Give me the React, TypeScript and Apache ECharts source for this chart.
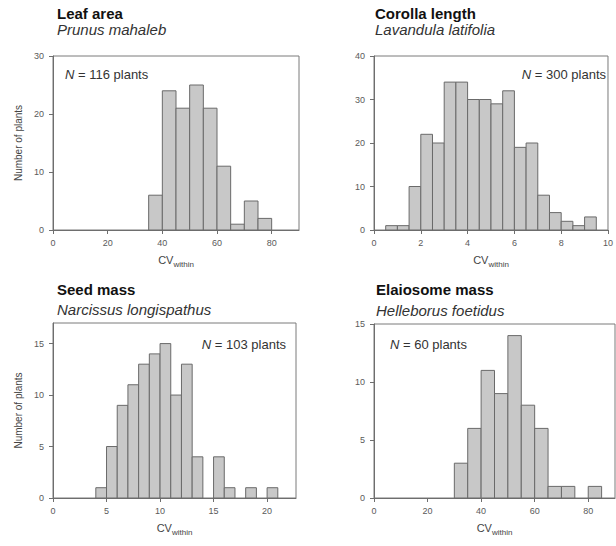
import React, { useEffect, useRef } from "react";
import * as echarts from "echarts";

// ---- Data ----
const leafBinStarts = [35, 40, 45, 50, 55, 60, 65, 70, 75];
const leafCounts = [6, 24, 21, 25, 21, 11, 1, 5, 2];
const leafBinWidth = 5;

const corollaBinStarts = [0.5, 1, 1.5, 2, 2.5, 3, 3.5, 4, 4.5, 5, 5.5, 6, 6.5, 7, 7.5, 8, 8.5, 9];
const corollaCounts = [1, 1, 10, 22, 20, 34, 34, 30, 30, 29, 32, 19, 20, 8, 4, 2, 1, 3];
const corollaBinWidth = 0.5;

const seedBinStarts = [4, 5, 6, 7, 8, 9, 10, 11, 12, 13, 14, 15, 16, 17, 18, 19, 20];
const seedCounts = [1, 5, 9, 11, 13, 14, 15, 10, 13, 4, 0, 4, 1, 0, 1, 0, 1];
const seedBinWidth = 1;

const elaioBinStarts = [30, 35, 40, 45, 50, 55, 60, 65, 70, 75, 80];
const elaioCounts = [3, 6, 11, 9, 14, 8, 6, 1, 1, 0, 1];
const elaioBinWidth = 5;

const titles = ["Leaf area", "Corolla length", "Seed mass", "Elaiosome mass"];
const species = ["Prunus mahaleb", "Lavandula latifolia", "Narcissus longispathus", "Helleborus foetidus"];
const nLabels = ["116", "300", "103", "60"];

const xTicks = [
  [0, 20, 40, 60, 80],
  [0, 2, 4, 6, 8, 10],
  [0, 5, 10, 15, 20],
  [0, 20, 40, 60, 80],
];
const yTicks = [
  [0, 10, 20, 30],
  [0, 10, 20, 30, 40],
  [0, 5, 10, 15],
  [0, 5, 10, 15],
];
const xMax = [90, 10, 22.7, 90];
const yMax = [30, 40, 17, 15];

const FONT = "Liberation Sans, Arial, Helvetica, sans-serif";

const panels = [
  { starts: leafBinStarts, counts: leafCounts, w: leafBinWidth },
  { starts: corollaBinStarts, counts: corollaCounts, w: corollaBinWidth },
  { starts: seedBinStarts, counts: seedCounts, w: seedBinWidth },
  { starts: elaioBinStarts, counts: elaioCounts, w: elaioBinWidth },
];

// layout
const grids = [
  { left: 53, top: 56, width: 246, height: 174 },
  { left: 374, top: 56, width: 241, height: 174 },
  { left: 53, top: 323, width: 243, height: 175 },
  { left: 374, top: 324, width: 241, height: 174 },
];

export default function App() {
  const ref = useRef<HTMLDivElement>(null);

  useEffect(() => {
    document.body.style.margin = "0";
    if (!ref.current) return;
    const chart = echarts.init(ref.current, null, { renderer: "svg" });

    const axisColor = "#6e6e6e";
    const labelColor = "#5a5a5a";

    const xAxes = grids.map((_, i) => ({
      type: "value",
      gridIndex: i,
      min: 0,
      max: xMax[i],
      splitLine: { show: false },
      axisLine: { show: true, onZero: false, lineStyle: { color: axisColor, width: 1 } },
      axisTick: { show: true, length: 4, customValues: xTicks[i], lineStyle: { color: axisColor } },
      axisLabel: {
        customValues: xTicks[i],
        fontSize: 9,
        color: labelColor,
        fontFamily: FONT,
        margin: 8,
        showMaxLabel: true,
      },
      name: "{a|CV}{b|within}",
      nameLocation: "middle",
      nameGap: 24,
      nameTextStyle: {
        color: "#444",
        fontFamily: FONT,
        rich: {
          a: { fontSize: 11, color: "#444", fontFamily: FONT, lineHeight: 16, verticalAlign: "top" },
          b: { fontSize: 8, color: "#444", fontFamily: FONT, lineHeight: 16, padding: [6, 0, 0, 0], verticalAlign: "top" },
        },
      },
    }));

    const yAxes = grids.map((_, i) => ({
      type: "value",
      gridIndex: i,
      min: 0,
      max: yMax[i],
      splitLine: { show: false },
      axisLine: { show: true, onZero: false, lineStyle: { color: axisColor, width: 1 } },
      axisTick: { show: true, length: 4, customValues: yTicks[i], lineStyle: { color: axisColor } },
      axisLabel: {
        customValues: yTicks[i],
        fontSize: 9,
        color: labelColor,
        fontFamily: FONT,
        margin: 9,
      },
      name: i % 2 === 0 ? "Number of plants" : "",
      nameLocation: "middle",
      nameGap: 30,
      nameTextStyle: { fontSize: 10, color: "#444", fontFamily: FONT },
    }));

    const series = panels.map((p, i) => ({
      type: "custom",
      xAxisIndex: i,
      yAxisIndex: i,
      data: p.starts.map((s, j) => [s, p.counts[j], p.w]),
      encode: { x: 0, y: 1 },
      renderItem: (_params: any, api: any) => {
        const x0 = api.value(0);
        const y = api.value(1);
        const w = api.value(2);
        if (!y) return null;
        const p0 = api.coord([x0, y]);
        const p1 = api.coord([x0 + w, 0]);
        return {
          type: "rect",
          shape: { x: p0[0], y: p0[1], width: p1[0] - p0[0], height: p1[1] - p0[1] },
          style: { fill: "#c8c8c8", stroke: "#6a6a6a", lineWidth: 1 },
        };
      },
    }));

    const titlePos = [
      { x: 57, ty: 13, sy: 29, nx: 65, ny: 74, nAlign: "left" },
      { x: 375, ty: 13, sy: 29, nx: 606, ny: 74, nAlign: "right" },
      { x: 57, ty: 289, sy: 309, nx: 286, ny: 344, nAlign: "right" },
      { x: 376, ty: 289, sy: 310, nx: 390, ny: 344, nAlign: "left" },
    ];

    const graphic: any[] = [];
    titlePos.forEach((t, i) => {
      graphic.push({
        type: "text",
        x: t.x,
        y: t.ty,
        style: {
          text: titles[i],
          fontSize: 15,
          lineHeight: 15,
          fontWeight: "bold",
          fontFamily: FONT,
          fill: "#111",
          textAlign: "left",
          textVerticalAlign: "middle",
        },
      });
      graphic.push({
        type: "text",
        x: t.x,
        y: t.sy,
        style: {
          text: species[i],
          fontSize: 15,
          lineHeight: 15,
          fontStyle: "italic",
          fontFamily: FONT,
          fill: "#333",
          textAlign: "left",
          textVerticalAlign: "middle",
        },
      });
      graphic.push({
        type: "text",
        x: t.nx,
        y: t.ny,
        z: 10,
        style: {
          text: "{i|N} = " + nLabels[i] + " plants",
          rich: { i: { fontStyle: "italic", fontSize: 13, fontFamily: FONT, fill: "#333" } },
          fontSize: 13,
          fontFamily: FONT,
          fill: "#333",
          textAlign: t.nAlign,
          textVerticalAlign: "middle",
        },
      });
    });

    chart.setOption({
      animation: false,
      backgroundColor: "#ffffff",
      grid: grids.map((g) => ({ ...g, show: true, borderColor: "#7a7a7a", borderWidth: 1, containLabel: false })),
      xAxis: xAxes,
      yAxis: yAxes,
      series,
      graphic,
    });

    return () => chart.dispose();
  }, []);

  return <div ref={ref} style={{ width: 616, height: 546 }} />;
}
